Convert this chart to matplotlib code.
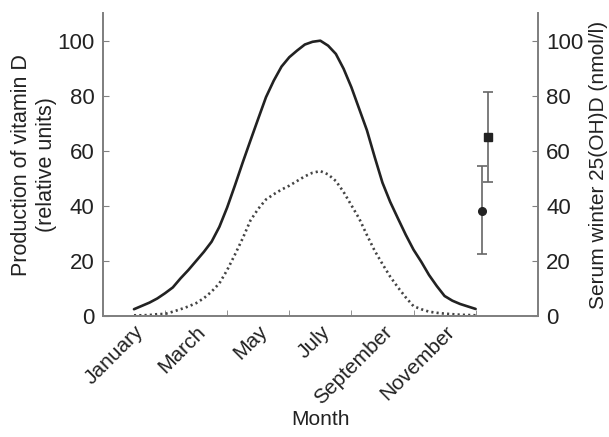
import numpy as np
import matplotlib
matplotlib.use('Agg')
import matplotlib.pyplot as plt
from matplotlib.ticker import FixedLocator

plt.rcParams['font.family'] = ['Liberation Sans', 'DejaVu Sans']

months = [1, 1.25, 1.5, 1.75, 2, 2.25, 2.5, 2.75, 3, 3.25, 3.5, 3.75,
          4, 4.25, 4.5, 4.75, 5, 5.25, 5.5, 5.75, 6, 6.25, 6.5, 6.75,
          7, 7.25, 7.5, 7.75, 8, 8.25, 8.5, 8.75, 9, 9.25, 9.5, 9.75,
          10, 10.25, 10.5, 10.75, 11, 11.25, 11.5, 11.75, 12]
# solid curve: production of vitamin D (relative units)
production_solid = [2.6, 3.8, 5.0, 6.5, 8.4, 10.5, 13.8, 16.8, 20.1, 23.4, 27.1, 32.5,
                    39.5, 47.5, 55.8, 63.8, 71.7, 79.5, 85.5, 90.6, 94, 96.4, 98.6, 99.6,
                    100, 98.2, 95.2, 89.8, 83.1, 75.3, 67.5, 57.8, 48.5, 41.5, 35.5, 29.6,
                    24.2, 19.8, 15, 11, 7.4, 5.7, 4.5, 3.6, 2.7]
# dotted curve
production_dotted = [0.4, 0.4, 0.5, 0.8, 0.9, 1.7, 2.6, 3.6, 4.8, 6.6, 9, 12,
                     16.8, 22.4, 28.3, 34.8, 39, 42.4, 44.3, 46, 47.4, 49.1, 50.8, 52.1,
                     52.7, 51.5, 49.1, 45.1, 40.3, 35.5, 29.5, 23.8, 19, 14.4, 10.5, 6.9,
                     3.7, 2.6, 1.7, 1.3, 1, 0.8, 0.6, 0.5, 0.4]

month_labels = ['January', 'March', 'May', 'July', 'September', 'November']
label_pos = [1, 3, 5, 7, 9, 11]
tick_pos = [2, 4, 6, 8, 10, 12]

# serum winter 25(OH)D, mean with low/high bar ends
serum_x = [12.19, 12.39]
serum_mean = [38.4, 65]
serum_low = [22.5, 48.9]
serum_high = [54.7, 81.3]
serum_marker = ['o', 's']

GREY = '#808080'
INK = '#222222'

fig = plt.figure(figsize=(6.09, 4.37), dpi=100)
ax = fig.add_axes([0.169, 0.276, 0.714, 0.694])

ax.plot(months, production_solid, color=INK, lw=1.9, solid_capstyle='round',
        solid_joinstyle='round')
ax.plot(months, production_dotted, color='#444444', lw=1.9,
        linestyle=(0, (0.8, 1.2)))

ax.set_xlim(0, 14)
ax.set_ylim(0, 110)
ax.set_yticks([0, 20, 40, 60, 80, 100])

ax.set_xticks(label_pos)
ax.set_xticklabels(month_labels, rotation=45, ha='right', rotation_mode='anchor')
ax.xaxis.set_minor_locator(FixedLocator(tick_pos))
ax.tick_params(axis='x', which='major', length=0, pad=4, labelsize=15, labelcolor=INK)
ax.tick_params(axis='x', which='minor', direction='in', length=4, color=GREY)
ax.tick_params(axis='y', direction='in', length=4, color=GREY, labelsize=16,
               labelcolor=INK, pad=6)

for side in ['left', 'bottom', 'right']:
    ax.spines[side].set_color(GREY)
    ax.spines[side].set_linewidth(1.3)
ax.spines['top'].set_visible(False)

ax.set_ylabel('Production of vitamin D\n(relative units)', fontsize=15.5, color=INK,
              labelpad=0.5)
ax.set_xlabel('Month', fontsize=15, color=INK, labelpad=2)

ax2 = ax.twinx()
ax2.set_ylim(0, 110)
ax2.set_yticks([0, 20, 40, 60, 80, 100])
ax2.tick_params(axis='y', direction='in', length=4, color=GREY, labelsize=16,
                labelcolor=INK, pad=6)
for side in ['left', 'bottom', 'right']:
    ax2.spines[side].set_color(GREY)
    ax2.spines[side].set_linewidth(1.3)
ax2.spines['top'].set_visible(False)
ax2.set_ylabel('Serum winter 25(OH)D (nmol/l)', fontsize=15, color=INK, labelpad=4)

for x, m, lo, hi, mk in zip(serum_x, serum_mean, serum_low, serum_high, serum_marker):
    ax2.errorbar([x], [m], yerr=[[m - lo], [hi - m]], fmt=mk, color=INK,
                 ecolor='#666666', elinewidth=1.2, capsize=3.8, capthick=1.2,
                 markersize=5.5)

fig.savefig('out.png', dpi=100)
